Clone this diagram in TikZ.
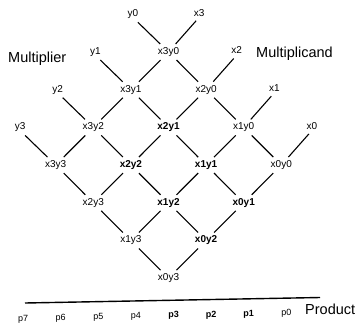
\documentclass[tikz,border=0pt]{standalone}
\usepackage{fontspec}
\setmainfont{Liberation Sans}
\begin{document}
\begin{tikzpicture}[x=1pt,y=-1pt,
  cell/.style={font=\fontsize{10}{12}\selectfont, inner sep=2pt, outer sep=1.5pt},
  inlabel/.style={font=\fontsize{10}{12}\selectfont, inner sep=1pt},
  heading/.style={font=\fontsize{14.5}{17}\selectfont, inner sep=0pt, anchor=base west},
  plabel/.style={font=\fontsize{9}{11}\selectfont, inner sep=0pt, anchor=base},
  wire/.style={line width=1.1pt},
  rule/.style={line width=1.4pt}]
\useasboundingbox (0,0) rectangle (358,324);

% partial-product cells x_i y_j on a diamond lattice
\foreach \i/\j/\w in {3/0/\mdseries,3/1/\mdseries,3/2/\mdseries,3/3/\mdseries,
                      2/0/\mdseries,2/1/\bfseries,2/2/\bfseries,2/3/\mdseries,
                      1/0/\mdseries,1/1/\bfseries,1/2/\bfseries,1/3/\mdseries,
                      0/0/\mdseries,0/1/\bfseries,0/2/\bfseries,0/3/\mdseries}
{
  \pgfmathsetmacro\c{3-\i-\j}
  \pgfmathsetmacro\r{3-\i+\j}
  \node[cell] (c\i\j) at ({168.5+37.6*\c},{52+37.7*\r}) {\w x\i y\j};
}

% multiplier bits travel down-left, multiplicand bits down-right
\foreach \i in {0,...,3}
  \foreach \j in {0,1,2} {
    \pgfmathtruncatemacro\k{\j+1}
    \draw[wire] (c\i\j) -- (c\i\k);
  }
\foreach \i in {1,2,3}
  \foreach \j in {0,...,3} {
    \pgfmathtruncatemacro\h{\i-1}
    \draw[wire] (c\i\j) -- (c\h\j);
  }

% multiplier inputs
\foreach \j in {0,...,3} {
  \node[inlabel] (y\j) at ({168.5+37.6*(-\j-1)+2},{52+37.7*(\j-1)}) {y\j};
  \coordinate (ey\j) at ([shift={(5,8)}]y\j.center);
  \draw[wire] (ey\j) -- (c3\j);
}

% multiplicand inputs
\foreach \i in {0,...,3} {
  \node[inlabel] (x\i) at ({168.5+37.6*(4-\i)-7},{52+37.7*(2-\i)-1.5}) {x\i};
  \coordinate (ex\i) at ([shift={(-3,8)}]x\i.center);
  \draw[wire] (ex\i) -- (c\i0);
}

\node[heading] (mplier) at (8,62) {Multiplier};
\node[heading] (mcand) at (256,57.5) {Multiplicand};

% product row
\coordinate (r0) at (25,303);
\coordinate (r1) at (320,297.5);
\draw[rule] (r0) -- (r1);
\node[heading] (prod) at (305,314) {Product};
\foreach \n/\w in {7/\mdseries,6/\mdseries,5/\mdseries,4/\mdseries,
                   3/\bfseries,2/\bfseries,1/\bfseries,0/\mdseries}
  \node[plabel] (p\n) at ({173.5+37.6*(3-\n)},{315.5+0.8*\n}) {\w p\n};
\end{tikzpicture}
\end{document}
